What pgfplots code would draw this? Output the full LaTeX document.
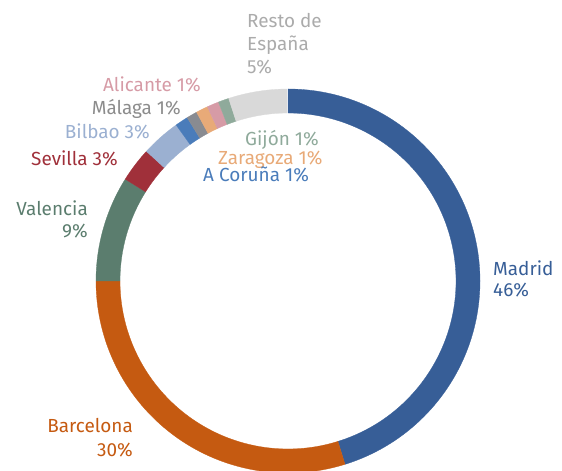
\documentclass[border=0pt]{standalone}
\usepackage{fontspec}
\setmainfont{Fira Sans}
\usepackage{pgfplots}
\usepackage{pgfplotstable}
\pgfplotsset{compat=1.18}
\definecolor{cMadrid}{HTML}{375E97}
\definecolor{cBarcelona}{HTML}{C55A11}
\definecolor{cValencia}{HTML}{5B7D6E}
\definecolor{cSevilla}{HTML}{A0303A}
\definecolor{cBilbao}{HTML}{9BB0D1}
\definecolor{cCoruna}{HTML}{4A7CBA}
\definecolor{cMalaga}{HTML}{898B91}
\definecolor{cZaragoza}{HTML}{E8AA78}
\definecolor{cAlicante}{HTML}{D69BA6}
\definecolor{cGijon}{HTML}{8FAA9B}
\definecolor{cResto}{HTML}{D9D9D9}
\definecolor{tResto}{HTML}{ABABAB}
\definecolor{tMalaga}{HTML}{8C8C8C}
\pgfplotstableread{
name value col
Madrid 45.2 cMadrid
Barcelona 29.8 cBarcelona
Valencia 8.9 cValencia
Sevilla 2.9 cSevilla
Bilbao 3.3 cBilbao
Coruna 1.1 cCoruna
Malaga 0.9 cMalaga
Zaragoza 1.0 cZaragoza
Alicante 1.0 cAlicante
Gijon 0.9 cGijon
Resto 4.9 cResto
}\sharetable
\tikzset{lbl/.style={inner sep=0pt, font=\fontsize{19}{23}\selectfont}}
\begin{document}
\fontsize{19}{23}\selectfont
\begin{tikzpicture}
\useasboundingbox (0,0) rectangle (562bp,471bp);
\begin{axis}[at={(0,0)},anchor=south west, scale only axis, width=562bp, height=471bp,
  xmin=0,xmax=562,ymin=0,ymax=471, hide axis, clip=false]
\pgfplotstablegetrowsof{\sharetable}
\pgfmathtruncatemacro{\nrows}{\pgfplotsretval-1}
\def\cumval{0}
\pgfplotsforeachungrouped \i in {0,...,\nrows}{%
  \pgfplotstablegetelem{\i}{value}\of{\sharetable}\let\sliceval\pgfplotsretval
  \pgfplotstablegetelem{\i}{col}\of{\sharetable}\let\slicecol\pgfplotsretval
  \pgfmathsetmacro{\angA}{90-3.6*\cumval}
  \pgfmathsetmacro{\angB}{90-3.6*(\cumval+\sliceval)}
  \pgfmathsetmacro{\xA}{288+192*cos(\angA)}
  \pgfmathsetmacro{\yA}{190+192*sin(\angA)}
  \pgfmathsetmacro{\xB}{288+168*cos(\angB)}
  \pgfmathsetmacro{\yB}{190+168*sin(\angB)}
  \edef\temp{\noexpand\fill[\slicecol, draw=\slicecol, line width=0.3bp] (axis cs:\xA,\yA) arc[start angle=\angA,end angle=\angB,radius=192bp] -- (axis cs:\xB,\yB) arc[start angle=\angB,end angle=\angA,radius=168bp] -- cycle;}%
  \temp
  \pgfmathsetmacro{\cumval}{\cumval+\sliceval}%
}
\node[lbl, anchor=base west, text=tResto] at (axis cs:247,443) {Resto de};
\node[lbl, anchor=base west, text=tResto] at (axis cs:247,420) {España};
\node[lbl, anchor=base west, text=tResto] at (axis cs:247,397) {5\%};
\node[lbl, anchor=base east, text=cAlicante] at (axis cs:201,379) {Alicante 1\%};
\node[lbl, anchor=base east, text=tMalaga] at (axis cs:181,356) {Málaga 1\%};
\node[lbl, anchor=base east, text=cBilbao] at (axis cs:150,332) {Bilbao 3\%};
\node[lbl, anchor=base east, text=cSevilla] at (axis cs:118,305) {Sevilla 3\%};
\node[lbl, anchor=base east, text=cValencia] at (axis cs:88,255) {Valencia};
\node[lbl, anchor=base east, text=cValencia] at (axis cs:88,233) {9\%};
\node[lbl, anchor=base west, text=cMadrid] at (axis cs:493,195) {Madrid};
\node[lbl, anchor=base west, text=cMadrid] at (axis cs:493,174) {46\%};
\node[lbl, anchor=base east, text=cBarcelona] at (axis cs:133,38) {Barcelona};
\node[lbl, anchor=base east, text=cBarcelona] at (axis cs:133,15) {30\%};
\node[lbl, anchor=base west, text=cGijon] at (axis cs:245,325) {Gijón 1\%};
\node[lbl, anchor=base west, text=cZaragoza] at (axis cs:218,306) {Zaragoza 1\%};
\node[lbl, anchor=base west, text=cCoruna] at (axis cs:203,289) {A Coruña 1\%};
\end{axis}
\end{tikzpicture}
\end{document}
